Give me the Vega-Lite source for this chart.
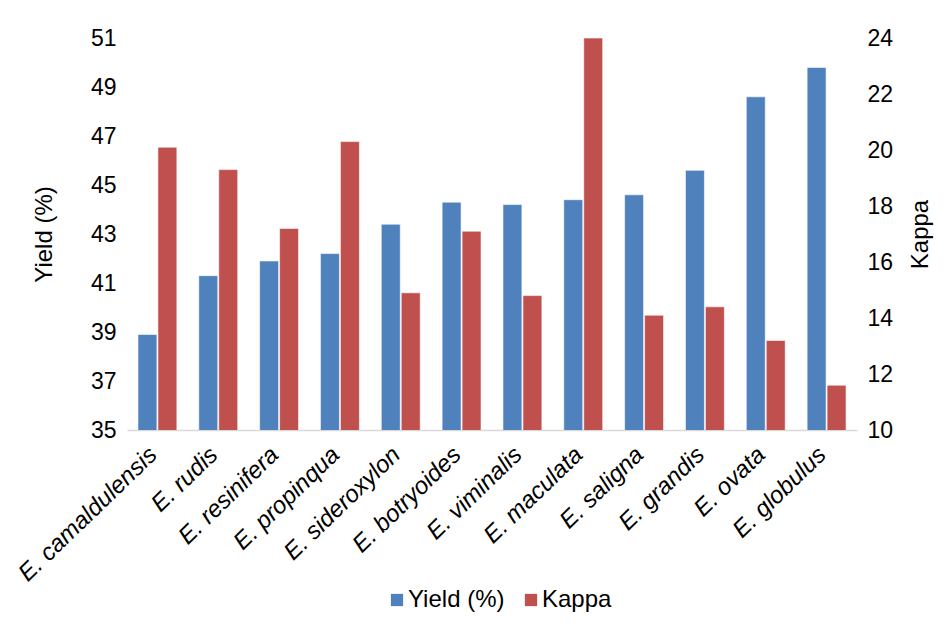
{
  "$schema": "https://vega.github.io/schema/vega-lite/v6.json",
  "width": 730,
  "height": 392,
  "autosize": {"type": "none"},
  "padding": {"left": 127, "top": 38, "right": 95, "bottom": 204},
  "background": "white",
  "config": {
    "font": "Liberation Sans",
    "view": {"stroke": null},
    "axis": {"labelFont": "Liberation Sans", "titleFont": "Liberation Sans", "labelColor": "#000000", "titleColor": "#000000", "titleFontWeight": "normal"},
    "legend": {"labelFont": "Liberation Sans", "labelColor": "#000000"}
  },
  "data": {
    "values": [
      {"species": "E. camaldulensis", "Yield (%)": 38.9, "Kappa": 20.1},
      {"species": "E. rudis", "Yield (%)": 41.3, "Kappa": 19.3},
      {"species": "E. resinifera", "Yield (%)": 41.9, "Kappa": 17.2},
      {"species": "E. propinqua", "Yield (%)": 42.2, "Kappa": 20.3},
      {"species": "E. sideroxylon", "Yield (%)": 43.4, "Kappa": 14.9},
      {"species": "E. botryoides", "Yield (%)": 44.3, "Kappa": 17.1},
      {"species": "E. viminalis", "Yield (%)": 44.2, "Kappa": 14.8},
      {"species": "E. maculata", "Yield (%)": 44.4, "Kappa": 24.0},
      {"species": "E. saligna", "Yield (%)": 44.6, "Kappa": 14.1},
      {"species": "E. grandis", "Yield (%)": 45.6, "Kappa": 14.4},
      {"species": "E. ovata", "Yield (%)": 48.6, "Kappa": 13.2},
      {"species": "E. globulus", "Yield (%)": 49.8, "Kappa": 11.6}
    ]
  },
  "transform": [
    {"fold": ["Yield (%)", "Kappa"], "as": ["series", "value"]}
  ],
  "encoding": {
    "x": {
      "field": "species",
      "type": "nominal",
      "sort": null,
      "scale": {"paddingInner": 0.36, "paddingOuter": 0.18},
      "axis": {
        "title": null,
        "labelAngle": -44,
        "labelAlign": "right",
        "labelBaseline": "middle",
        "labelFontSize": 24,
        "labelFontStyle": "italic",
        "labelPadding": 21,
        "labelOffset": -4,
        "labelLimit": 400,
        "labelOverlap": false,
        "ticks": false,
        "domainColor": "#d9d9d9",
        "domainWidth": 1.5,
        "grid": false
      }
    },
    "xOffset": {
      "field": "series",
      "type": "nominal",
      "sort": ["Yield (%)", "Kappa"],
      "scale": {"domain": ["Yield (%)", "Kappa"], "paddingInner": 0.05}
    },
    "color": {
      "field": "series",
      "type": "nominal",
      "sort": ["Yield (%)", "Kappa"],
      "scale": {"domain": ["Yield (%)", "Kappa"], "range": ["#4F81BD", "#C0504D"]},
      "legend": {
        "title": null,
        "orient": "none",
        "legendX": 258,
        "legendY": 550,
        "direction": "horizontal",
        "symbolType": "square",
        "symbolSize": 150,
        "symbolStrokeWidth": 0,
        "labelFontSize": 24,
        "labelOffset": -1,
        "columnPadding": 14
      }
    }
  },
  "layer": [
    {
      "transform": [{"filter": "datum.series === 'Yield (%)'"}],
      "mark": {"type": "bar", "clip": true, "stroke": "#ffffff", "strokeWidth": 0.6},
      "encoding": {
        "y": {
          "field": "value",
          "type": "quantitative",
          "scale": {"domain": [35, 51], "zero": false, "nice": false},
          "axis": {
            "orient": "left",
            "title": "Yield (%)",
            "titleFontSize": 24,
            "titlePadding": 34,
            "labelFontSize": 23,
            "labelPadding": 11,
            "values": [35, 37, 39, 41, 43, 45, 47, 49, 51],
            "ticks": false,
            "domain": false,
            "grid": false
          }
        }
      }
    },
    {
      "transform": [{"filter": "datum.series === 'Kappa'"}],
      "mark": {"type": "bar", "clip": true, "stroke": "#ffffff", "strokeWidth": 0.6},
      "encoding": {
        "y": {
          "field": "value",
          "type": "quantitative",
          "scale": {"domain": [10, 24], "zero": false, "nice": false},
          "axis": {
            "orient": "right",
            "title": "Kappa",
            "titleAngle": 270,
            "titleFontSize": 24,
            "titlePadding": 40,
            "labelFontSize": 23,
            "labelPadding": 10,
            "values": [10, 12, 14, 16, 18, 20, 22, 24],
            "ticks": false,
            "domain": false,
            "grid": false
          }
        }
      }
    }
  ],
  "resolve": {"scale": {"y": "independent"}}
}
